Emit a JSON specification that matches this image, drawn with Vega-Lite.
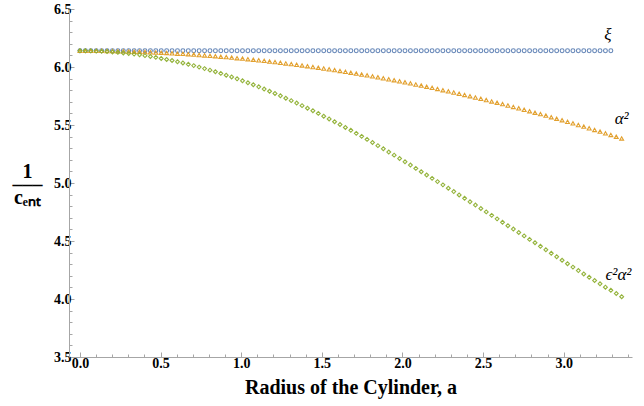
{
  "$schema": "https://vega.github.io/schema/vega-lite/v6.json",
  "width": 563,
  "height": 348,
  "autosize": {"type": "none"},
  "padding": {"left": 69, "top": 9, "right": 12, "bottom": 49},
  "background": "white",
  "config": {
    "view": {"stroke": null},
    "axis": {
      "grid": false,
      "domainColor": "#a6a6a6",
      "tickColor": "#a6a6a6",
      "labelFont": "Liberation Serif",
      "labelFontWeight": "bold",
      "labelFontSize": 14,
      "labelColor": "black",
      "titleFont": "Liberation Serif",
      "titleFontWeight": "bold",
      "titleColor": "black",
      "labelOverlap": false,
      "labelFlush": false,
      "labelBound": false
    }
  },
  "layer": [
    {
      "data": {"values": [
        {"a":0,"v":6.14,"s":"xi"},{"a":0.0336,"v":6.14,"s":"xi"},{"a":0.0672,"v":6.14,"s":"xi"},{"a":0.1008,"v":6.14,"s":"xi"},{"a":0.1344,"v":6.14,"s":"xi"},{"a":0.168,"v":6.14,"s":"xi"},{"a":0.2016,"v":6.14,"s":"xi"},{"a":0.2352,"v":6.14,"s":"xi"},{"a":0.2688,"v":6.14,"s":"xi"},{"a":0.3024,"v":6.14,"s":"xi"},
        {"a":0.336,"v":6.14,"s":"xi"},{"a":0.3696,"v":6.14,"s":"xi"},{"a":0.4032,"v":6.14,"s":"xi"},{"a":0.4368,"v":6.14,"s":"xi"},{"a":0.4704,"v":6.14,"s":"xi"},{"a":0.504,"v":6.14,"s":"xi"},{"a":0.5376,"v":6.14,"s":"xi"},{"a":0.5712,"v":6.14,"s":"xi"},{"a":0.6048,"v":6.14,"s":"xi"},{"a":0.6384,"v":6.14,"s":"xi"},
        {"a":0.672,"v":6.14,"s":"xi"},{"a":0.7056,"v":6.14,"s":"xi"},{"a":0.7392,"v":6.14,"s":"xi"},{"a":0.7728,"v":6.14,"s":"xi"},{"a":0.8064,"v":6.14,"s":"xi"},{"a":0.84,"v":6.14,"s":"xi"},{"a":0.8736,"v":6.14,"s":"xi"},{"a":0.9072,"v":6.14,"s":"xi"},{"a":0.9408,"v":6.14,"s":"xi"},{"a":0.9744,"v":6.14,"s":"xi"},
        {"a":1.008,"v":6.14,"s":"xi"},{"a":1.0416,"v":6.14,"s":"xi"},{"a":1.0752,"v":6.14,"s":"xi"},{"a":1.1088,"v":6.14,"s":"xi"},{"a":1.1424,"v":6.14,"s":"xi"},{"a":1.176,"v":6.14,"s":"xi"},{"a":1.2096,"v":6.14,"s":"xi"},{"a":1.2432,"v":6.14,"s":"xi"},{"a":1.2768,"v":6.14,"s":"xi"},{"a":1.3104,"v":6.14,"s":"xi"},
        {"a":1.344,"v":6.14,"s":"xi"},{"a":1.3776,"v":6.14,"s":"xi"},{"a":1.4112,"v":6.14,"s":"xi"},{"a":1.4448,"v":6.14,"s":"xi"},{"a":1.4784,"v":6.14,"s":"xi"},{"a":1.512,"v":6.14,"s":"xi"},{"a":1.5456,"v":6.14,"s":"xi"},{"a":1.5792,"v":6.14,"s":"xi"},{"a":1.6128,"v":6.14,"s":"xi"},{"a":1.6464,"v":6.14,"s":"xi"},
        {"a":1.68,"v":6.14,"s":"xi"},{"a":1.7136,"v":6.14,"s":"xi"},{"a":1.7472,"v":6.14,"s":"xi"},{"a":1.7808,"v":6.14,"s":"xi"},{"a":1.8144,"v":6.14,"s":"xi"},{"a":1.848,"v":6.14,"s":"xi"},{"a":1.8816,"v":6.14,"s":"xi"},{"a":1.9152,"v":6.14,"s":"xi"},{"a":1.9488,"v":6.14,"s":"xi"},{"a":1.9824,"v":6.14,"s":"xi"},
        {"a":2.016,"v":6.14,"s":"xi"},{"a":2.0496,"v":6.14,"s":"xi"},{"a":2.0832,"v":6.14,"s":"xi"},{"a":2.1168,"v":6.14,"s":"xi"},{"a":2.1504,"v":6.14,"s":"xi"},{"a":2.184,"v":6.14,"s":"xi"},{"a":2.2176,"v":6.14,"s":"xi"},{"a":2.2512,"v":6.14,"s":"xi"},{"a":2.2848,"v":6.14,"s":"xi"},{"a":2.3184,"v":6.14,"s":"xi"},
        {"a":2.352,"v":6.14,"s":"xi"},{"a":2.3856,"v":6.14,"s":"xi"},{"a":2.4192,"v":6.14,"s":"xi"},{"a":2.4528,"v":6.14,"s":"xi"},{"a":2.4864,"v":6.14,"s":"xi"},{"a":2.52,"v":6.14,"s":"xi"},{"a":2.5536,"v":6.14,"s":"xi"},{"a":2.5872,"v":6.14,"s":"xi"},{"a":2.6208,"v":6.14,"s":"xi"},{"a":2.6544,"v":6.14,"s":"xi"},
        {"a":2.688,"v":6.14,"s":"xi"},{"a":2.7216,"v":6.14,"s":"xi"},{"a":2.7552,"v":6.14,"s":"xi"},{"a":2.7888,"v":6.14,"s":"xi"},{"a":2.8224,"v":6.14,"s":"xi"},{"a":2.856,"v":6.14,"s":"xi"},{"a":2.8896,"v":6.14,"s":"xi"},{"a":2.9232,"v":6.14,"s":"xi"},{"a":2.9568,"v":6.14,"s":"xi"},{"a":2.9904,"v":6.14,"s":"xi"},
        {"a":3.024,"v":6.14,"s":"xi"},{"a":3.0576,"v":6.14,"s":"xi"},{"a":3.0912,"v":6.14,"s":"xi"},{"a":3.1248,"v":6.14,"s":"xi"},{"a":3.1584,"v":6.14,"s":"xi"},{"a":3.192,"v":6.14,"s":"xi"},{"a":3.2256,"v":6.14,"s":"xi"},{"a":3.2592,"v":6.14,"s":"xi"},{"a":3.2928,"v":6.14,"s":"xi"},

        {"a":0,"v":6.140,"s":"al"},{"a":0.0336,"v":6.140,"s":"al"},{"a":0.0672,"v":6.140,"s":"al"},{"a":0.1008,"v":6.139,"s":"al"},{"a":0.1344,"v":6.139,"s":"al"},{"a":0.168,"v":6.138,"s":"al"},{"a":0.2016,"v":6.137,"s":"al"},{"a":0.2352,"v":6.136,"s":"al"},{"a":0.2688,"v":6.135,"s":"al"},{"a":0.3024,"v":6.134,"s":"al"},
        {"a":0.336,"v":6.132,"s":"al"},{"a":0.3696,"v":6.131,"s":"al"},{"a":0.4032,"v":6.129,"s":"al"},{"a":0.4368,"v":6.127,"s":"al"},{"a":0.4704,"v":6.125,"s":"al"},{"a":0.504,"v":6.123,"s":"al"},{"a":0.5376,"v":6.121,"s":"al"},{"a":0.5712,"v":6.118,"s":"al"},{"a":0.6048,"v":6.115,"s":"al"},{"a":0.6384,"v":6.113,"s":"al"},
        {"a":0.672,"v":6.110,"s":"al"},{"a":0.7056,"v":6.107,"s":"al"},{"a":0.7392,"v":6.103,"s":"al"},{"a":0.7728,"v":6.100,"s":"al"},{"a":0.8064,"v":6.096,"s":"al"},{"a":0.84,"v":6.093,"s":"al"},{"a":0.8736,"v":6.089,"s":"al"},{"a":0.9072,"v":6.085,"s":"al"},{"a":0.9408,"v":6.081,"s":"al"},{"a":0.9744,"v":6.076,"s":"al"},
        {"a":1.008,"v":6.072,"s":"al"},{"a":1.0416,"v":6.067,"s":"al"},{"a":1.0752,"v":6.063,"s":"al"},{"a":1.1088,"v":6.058,"s":"al"},{"a":1.1424,"v":6.053,"s":"al"},{"a":1.176,"v":6.047,"s":"al"},{"a":1.2096,"v":6.042,"s":"al"},{"a":1.2432,"v":6.036,"s":"al"},{"a":1.2768,"v":6.031,"s":"al"},{"a":1.3104,"v":6.025,"s":"al"},
        {"a":1.344,"v":6.019,"s":"al"},{"a":1.3776,"v":6.013,"s":"al"},{"a":1.4112,"v":6.007,"s":"al"},{"a":1.4448,"v":6.000,"s":"al"},{"a":1.4784,"v":5.994,"s":"al"},{"a":1.512,"v":5.987,"s":"al"},{"a":1.5456,"v":5.980,"s":"al"},{"a":1.5792,"v":5.973,"s":"al"},{"a":1.6128,"v":5.966,"s":"al"},{"a":1.6464,"v":5.958,"s":"al"},
        {"a":1.68,"v":5.951,"s":"al"},{"a":1.7136,"v":5.943,"s":"al"},{"a":1.7472,"v":5.935,"s":"al"},{"a":1.7808,"v":5.928,"s":"al"},{"a":1.8144,"v":5.919,"s":"al"},{"a":1.848,"v":5.911,"s":"al"},{"a":1.8816,"v":5.903,"s":"al"},{"a":1.9152,"v":5.894,"s":"al"},{"a":1.9488,"v":5.886,"s":"al"},{"a":1.9824,"v":5.877,"s":"al"},
        {"a":2.016,"v":5.868,"s":"al"},{"a":2.0496,"v":5.859,"s":"al"},{"a":2.0832,"v":5.849,"s":"al"},{"a":2.1168,"v":5.840,"s":"al"},{"a":2.1504,"v":5.830,"s":"al"},{"a":2.184,"v":5.820,"s":"al"},{"a":2.2176,"v":5.811,"s":"al"},{"a":2.2512,"v":5.800,"s":"al"},{"a":2.2848,"v":5.790,"s":"al"},{"a":2.3184,"v":5.780,"s":"al"},
        {"a":2.352,"v":5.769,"s":"al"},{"a":2.3856,"v":5.759,"s":"al"},{"a":2.4192,"v":5.748,"s":"al"},{"a":2.4528,"v":5.737,"s":"al"},{"a":2.4864,"v":5.726,"s":"al"},{"a":2.52,"v":5.715,"s":"al"},{"a":2.5536,"v":5.703,"s":"al"},{"a":2.5872,"v":5.692,"s":"al"},{"a":2.6208,"v":5.680,"s":"al"},{"a":2.6544,"v":5.668,"s":"al"},
        {"a":2.688,"v":5.656,"s":"al"},{"a":2.7216,"v":5.644,"s":"al"},{"a":2.7552,"v":5.631,"s":"al"},{"a":2.7888,"v":5.619,"s":"al"},{"a":2.8224,"v":5.606,"s":"al"},{"a":2.856,"v":5.594,"s":"al"},{"a":2.8896,"v":5.581,"s":"al"},{"a":2.9232,"v":5.567,"s":"al"},{"a":2.9568,"v":5.554,"s":"al"},{"a":2.9904,"v":5.541,"s":"al"},
        {"a":3.024,"v":5.527,"s":"al"},{"a":3.0576,"v":5.514,"s":"al"},{"a":3.0912,"v":5.500,"s":"al"},{"a":3.1248,"v":5.486,"s":"al"},{"a":3.1584,"v":5.472,"s":"al"},{"a":3.192,"v":5.457,"s":"al"},{"a":3.2256,"v":5.443,"s":"al"},{"a":3.2592,"v":5.428,"s":"al"},{"a":3.2928,"v":5.414,"s":"al"},{"a":3.3264,"v":5.399,"s":"al"},
        {"a":3.36,"v":5.384,"s":"al"},

        {"a":0,"v":6.140,"s":"ea"},{"a":0.0336,"v":6.140,"s":"ea"},{"a":0.0672,"v":6.139,"s":"ea"},{"a":0.1008,"v":6.137,"s":"ea"},{"a":0.1344,"v":6.135,"s":"ea"},{"a":0.168,"v":6.133,"s":"ea"},{"a":0.2016,"v":6.129,"s":"ea"},{"a":0.2352,"v":6.126,"s":"ea"},{"a":0.2688,"v":6.121,"s":"ea"},{"a":0.3024,"v":6.116,"s":"ea"},
        {"a":0.336,"v":6.111,"s":"ea"},{"a":0.3696,"v":6.105,"s":"ea"},{"a":0.4032,"v":6.098,"s":"ea"},{"a":0.4368,"v":6.090,"s":"ea"},{"a":0.4704,"v":6.083,"s":"ea"},{"a":0.504,"v":6.074,"s":"ea"},{"a":0.5376,"v":6.065,"s":"ea"},{"a":0.5712,"v":6.056,"s":"ea"},{"a":0.6048,"v":6.045,"s":"ea"},{"a":0.6384,"v":6.035,"s":"ea"},
        {"a":0.672,"v":6.023,"s":"ea"},{"a":0.7056,"v":6.012,"s":"ea"},{"a":0.7392,"v":5.999,"s":"ea"},{"a":0.7728,"v":5.986,"s":"ea"},{"a":0.8064,"v":5.973,"s":"ea"},{"a":0.84,"v":5.959,"s":"ea"},{"a":0.8736,"v":5.945,"s":"ea"},{"a":0.9072,"v":5.929,"s":"ea"},{"a":0.9408,"v":5.914,"s":"ea"},{"a":0.9744,"v":5.898,"s":"ea"},
        {"a":1.008,"v":5.881,"s":"ea"},{"a":1.0416,"v":5.864,"s":"ea"},{"a":1.0752,"v":5.847,"s":"ea"},{"a":1.1088,"v":5.829,"s":"ea"},{"a":1.1424,"v":5.810,"s":"ea"},{"a":1.176,"v":5.791,"s":"ea"},{"a":1.2096,"v":5.772,"s":"ea"},{"a":1.2432,"v":5.752,"s":"ea"},{"a":1.2768,"v":5.731,"s":"ea"},{"a":1.3104,"v":5.710,"s":"ea"},
        {"a":1.344,"v":5.689,"s":"ea"},{"a":1.3776,"v":5.667,"s":"ea"},{"a":1.4112,"v":5.645,"s":"ea"},{"a":1.4448,"v":5.623,"s":"ea"},{"a":1.4784,"v":5.600,"s":"ea"},{"a":1.512,"v":5.576,"s":"ea"},{"a":1.5456,"v":5.552,"s":"ea"},{"a":1.5792,"v":5.528,"s":"ea"},{"a":1.6128,"v":5.504,"s":"ea"},{"a":1.6464,"v":5.479,"s":"ea"},
        {"a":1.68,"v":5.454,"s":"ea"},{"a":1.7136,"v":5.428,"s":"ea"},{"a":1.7472,"v":5.402,"s":"ea"},{"a":1.7808,"v":5.376,"s":"ea"},{"a":1.8144,"v":5.349,"s":"ea"},{"a":1.848,"v":5.322,"s":"ea"},{"a":1.8816,"v":5.295,"s":"ea"},{"a":1.9152,"v":5.267,"s":"ea"},{"a":1.9488,"v":5.240,"s":"ea"},{"a":1.9824,"v":5.211,"s":"ea"},
        {"a":2.016,"v":5.183,"s":"ea"},{"a":2.0496,"v":5.155,"s":"ea"},{"a":2.0832,"v":5.126,"s":"ea"},{"a":2.1168,"v":5.097,"s":"ea"},{"a":2.1504,"v":5.069,"s":"ea"},{"a":2.184,"v":5.040,"s":"ea"},{"a":2.2176,"v":5.012,"s":"ea"},{"a":2.2512,"v":4.984,"s":"ea"},{"a":2.2848,"v":4.955,"s":"ea"},{"a":2.3184,"v":4.926,"s":"ea"},
        {"a":2.352,"v":4.897,"s":"ea"},{"a":2.3856,"v":4.868,"s":"ea"},{"a":2.4192,"v":4.838,"s":"ea"},{"a":2.4528,"v":4.810,"s":"ea"},{"a":2.4864,"v":4.780,"s":"ea"},{"a":2.52,"v":4.751,"s":"ea"},{"a":2.5536,"v":4.721,"s":"ea"},{"a":2.5872,"v":4.691,"s":"ea"},{"a":2.6208,"v":4.661,"s":"ea"},{"a":2.6544,"v":4.632,"s":"ea"},
        {"a":2.688,"v":4.603,"s":"ea"},{"a":2.7216,"v":4.573,"s":"ea"},{"a":2.7552,"v":4.544,"s":"ea"},{"a":2.7888,"v":4.514,"s":"ea"},{"a":2.8224,"v":4.485,"s":"ea"},{"a":2.856,"v":4.454,"s":"ea"},{"a":2.8896,"v":4.424,"s":"ea"},{"a":2.9232,"v":4.394,"s":"ea"},{"a":2.9568,"v":4.364,"s":"ea"},{"a":2.9904,"v":4.334,"s":"ea"},
        {"a":3.024,"v":4.304,"s":"ea"},{"a":3.0576,"v":4.275,"s":"ea"},{"a":3.0912,"v":4.245,"s":"ea"},{"a":3.1248,"v":4.216,"s":"ea"},{"a":3.1584,"v":4.187,"s":"ea"},{"a":3.192,"v":4.159,"s":"ea"},{"a":3.2256,"v":4.131,"s":"ea"},{"a":3.2592,"v":4.102,"s":"ea"},{"a":3.2928,"v":4.075,"s":"ea"},{"a":3.3264,"v":4.047,"s":"ea"},
        {"a":3.36,"v":4.020,"s":"ea"}
      ]},
      "mark": {"type": "point", "filled": false, "strokeWidth": 1.1, "size": 15, "opacity": 0.95},
      "encoding": {
        "x": {
          "field": "a", "type": "quantitative",
          "scale": {"domain": [-0.068, 3.424], "nice": false, "zero": false},
          "axis": {
            "title": "Radius of the Cylinder, a",
            "titleFontSize": 20,
            "titlePadding": 5,
            "labelOverlap": false,
            "labelFlush": false,
            "tickCount": 200,
            "values": [0,0.1,0.2,0.3,0.4,0.5,0.6,0.7,0.8,0.9,1,1.1,1.2,1.3,1.4,1.5,1.6,1.7,1.8,1.9,2,2.1,2.2,2.3,2.4,2.5,2.6,2.7,2.8,2.9,3,3.1,3.2,3.3,3.4],
            "labelExpr": "abs(datum.value*2 - round(datum.value*2)) < 0.01 ? format(datum.value, '.1f') : ''",
            "tickSize": {"condition": {"test": "abs(datum.value*2 - round(datum.value*2)) < 0.01", "value": -5}, "value": -3},
            "labelPadding": 4
          }
        },
        "y": {
          "field": "v", "type": "quantitative",
          "scale": {"domain": [3.5, 6.5], "nice": false, "zero": false},
          "axis": {
            "title": ["1", "–––", "cₑₙₜ"],
            "titleAngle": 0,
            "titleFontSize": 20,
            "titleAlign": "center",
            "titleBaseline": "middle",
            "titleLineHeight": 13,
            "titleX": -42,
            "titleY": 162,
            "labelOverlap": false,
            "labelFlush": false,
            "tickCount": 200,
            "values": [3.5,3.6,3.7,3.8,3.9,4,4.1,4.2,4.3,4.4,4.5,4.6,4.7,4.8,4.9,5,5.1,5.2,5.3,5.4,5.5,5.6,5.7,5.8,5.9,6,6.1,6.2,6.3,6.4,6.5],
            "labelExpr": "abs(datum.value*2 - round(datum.value*2)) < 0.01 ? format(datum.value, '.1f') : ''",
            "tickSize": {"condition": {"test": "abs(datum.value*2 - round(datum.value*2)) < 0.01", "value": -5}, "value": -3},
            "labelPadding": 3
          }
        },
        "color": {
          "field": "s", "type": "nominal",
          "scale": {"domain": ["xi", "al", "ea"], "range": ["#5e81b5", "#e19c24", "#8fb032"]},
          "legend": null
        },
        "shape": {
          "field": "s", "type": "nominal",
          "scale": {"domain": ["xi", "al", "ea"], "range": ["circle", "triangle-up", "diamond"]},
          "legend": null
        }
      }
    },
    {
      "data": {"values": [
        {"a": 3.275, "v": 6.28, "label": "ξ"},
        {"a": 3.36, "v": 5.55, "label": "α²"},
        {"a": 3.34, "v": 4.21, "label": "ϵ²α²"}
      ]},
      "mark": {"type": "text", "font": "Liberation Serif", "fontStyle": "italic", "fontSize": 17, "color": "black", "align": "center", "baseline": "middle"},
      "encoding": {
        "x": {"field": "a", "type": "quantitative"},
        "y": {"field": "v", "type": "quantitative"},
        "text": {"field": "label"}
      }
    }
  ]
}
